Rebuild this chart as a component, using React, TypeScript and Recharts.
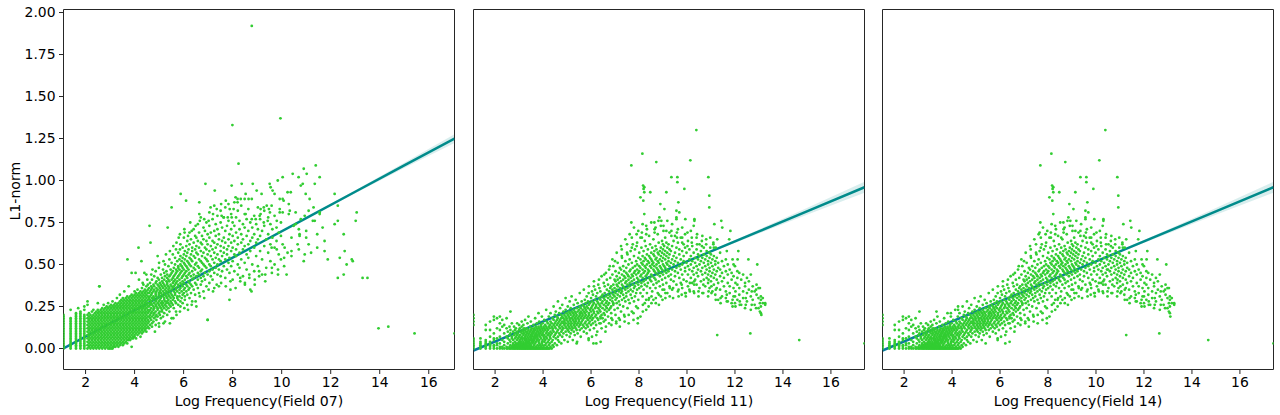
import React from "react";
import { ComposedChart, Scatter, Line, Area, XAxis, YAxis, ReferenceArea } from "recharts";

type Col = [number, number[]];

const xTicks = [2, 4, 6, 8, 10, 12, 14, 16];
const yTicks = [0, 0.25, 0.5, 0.75, 1, 1.25, 1.5, 1.75, 2];

// Each column: an x value and the y values (in hundredths) read at that x.
const field07Stripes: Col[] = [
  [1.1, [0,1,2,3,4,5,6,7,8,9,10,11,12,13,14,15,16,17,18,19,20]],
  [1.39, [0,1,2,3,4,5,6,7,8,9,10,11,12,13,14,15,16,17,18,23]],
  [1.61, [0,1,2,3,4,5,6,7,8,9,10,11,12,13,14,15,16,17,18,19,20,21]],
  [1.79, [0,1,2,3,4,5,6,7,8,9,10,11,12,13,14,15,16,17,18,19,20,21,22]],
  [1.95, [0,1,2,3,4,5,6,7,8,9,10,11,12,13,14,15,16,17,18,19,20,23,25]],
];
const field07Core: Col[] = [
  [2.08, [0,2,4,6,8,10,12,14,16,18,20]],[2.14, [1,3,5,7,9,11,13,15,17,19,21]],
  [2.2, [0,2,4,6,8,10,12,14,16,18,20]],[2.26, [1,3,5,7,9,11,13,15,17,19,22]],
  [2.32, [0,2,4,6,8,10,12,14,16,18,20,23]],[2.38, [1,3,5,7,9,11,13,15,17,19,21]],
  [2.44, [0,2,4,6,8,10,12,14,16,18,20,22]],[2.5, [1,3,5,7,9,11,13,15,17,19,21,23,27]],
  [2.56, [0,2,4,6,8,10,12,14,16,18,20,22,37]],[2.62, [1,3,5,7,9,11,13,15,17,19,21,23]],
  [2.68, [0,2,4,6,8,10,12,14,16,18,20,22,24]],[2.74, [1,3,5,7,9,11,13,15,17,19,21,23,26]],
  [2.8, [0,2,4,6,8,10,12,14,16,18,20,22,24]],[2.86, [1,3,5,7,9,11,13,15,17,19,21,23,25]],
  [2.92, [0,2,4,6,8,10,12,14,16,18,20,22,24,27]],[2.98, [0,1,3,5,7,9,11,13,15,17,19,21,23,25]],
  [3.04, [0,2,4,6,8,10,12,14,16,18,20,22,24,26]],[3.1, [0,1,3,5,7,9,11,13,15,17,19,21,23,25,28]],
  [3.16, [1,2,4,6,8,10,12,14,16,18,20,22,24,26]],[3.22, [1,3,5,7,9,11,13,15,17,19,21,23,25,27]],
  [3.28, [2,4,6,8,10,12,14,16,18,20,22,24,26,30]],[3.34, [1,3,5,7,9,11,13,15,17,19,21,23,25,27]],
  [3.4, [2,4,6,8,10,12,14,16,18,20,22,24,26,28,32]],[3.46, [3,5,7,9,11,13,15,17,19,21,23,25,27,29]],
  [3.52, [2,4,6,8,10,12,14,16,18,20,22,24,26,28,30]],[3.58, [3,5,7,9,11,13,15,17,19,21,23,25,27,29,34]],
  [3.64, [4,6,8,10,12,14,16,18,20,22,24,26,28,30]],[3.7, [3,5,7,9,11,13,15,17,19,21,23,25,27,29,31]],
  [3.76, [5,6,8,10,12,14,16,18,20,22,24,26,28,30,37]],[3.82, [5,7,9,11,13,15,17,19,21,23,25,27,29,31]],
  [3.88, [1,6,8,10,12,14,16,18,20,22,24,26,28,30,32]],[3.94, [6,7,9,11,13,15,17,19,21,23,25,27,29,31]],
  [4.0, [7,8,10,12,14,16,18,20,22,24,26,28,30,32,34]],[4.06, [6,9,11,13,15,17,19,21,23,25,27,29,31,33]],
  [4.12, [8,10,12,14,16,18,20,22,24,26,28,30,32,35]],[4.18, [9,11,13,15,17,19,21,23,25,27,29,31,33,41]],
  [4.24, [7,10,12,14,16,18,20,22,24,26,28,30,32,34]],[4.3, [9,11,13,15,17,19,21,23,25,27,29,31,33,36]],
  [4.36, [10,12,14,16,18,20,22,24,26,28,30,32,34,38]],[4.42, [11,13,15,17,19,21,23,25,27,29,31,33,35]],
  [4.48, [10,12,14,16,18,20,22,24,26,28,30,32,34,37,44]],[4.54, [13,15,17,19,21,23,25,27,29,31,33,35,38]],
];
const field07Mid: Col[] = [
  [4.59,[12,16,19,22,25,27,30,33,36]],[4.63,[14,18,20,23,26,29,31,34,39]],[4.68,[17,21,24,27,28,32,35,37,44]],
  [4.71,[13,15,19,22,26,30,33,36,41]],[4.77,[16,20,23,25,29,31,34,38]],[4.8,[18,21,24,27,30,35,37,43]],
  [4.86,[14,19,22,26,28,32,33,39,46]],[4.89,[17,20,25,29,31,34,36,40]],[4.94,[19,23,24,27,30,35,38,42]],
  [4.99,[15,21,26,28,32,33,37,41,48]],[5.03,[20,22,25,29,31,34,36,39]],[5.07,[18,24,27,30,33,35,38,44]],
  [5.12,[22,23,26,28,32,37,40,42]],[5.16,[19,25,27,31,34,36,39,47]],[5.21,[21,24,29,30,33,38,41,45]],
  [5.24,[16,26,28,32,35,37,43,50]],[5.3,[23,25,27,31,34,36,40,46]],[5.33,[20,28,30,33,38,39,42,44]],
  [5.38,[24,27,29,32,35,37,41,49]],[5.42,[22,26,31,34,36,40,43,53]],[5.47,[25,28,30,33,38,44,47]],
  [5.51,[18,27,32,35,37,41,45,51]],[5.56,[26,29,31,36,39,42,46,56]],[5.6,[24,30,34,37,40,43,48]],
  [5.65,[28,32,33,38,41,44,50,54]],[5.69,[22,27,35,36,39,45,47,59]],[5.74,[30,31,34,40,42,46,52]],
  [5.78,[26,29,37,38,43,48,49,57]],[5.83,[31,33,35,41,44,47,53]],[5.87,[25,28,36,39,45,50,55,62]],
  [5.92,[30,34,38,42,46,49,52]],[5.96,[27,32,37,40,43,48,54,60]],[6.01,[33,35,39,44,47,51,56,66]],
  [6.05,[29,31,36,41,45,50,53,58]],[6.11,[34,38,43,46,49,55,61]],[6.15,[26,32,37,42,48,52,57,64]],
  [6.2,[35,40,44,47,51,59]],[6.24,[30,36,39,45,50,54,62,69]],[6.3,[33,38,43,49,53,56,65]],
  [6.35,[28,37,41,46,52,58,60]],[6.41,[35,42,44,48,55,63,71]],[6.47,[32,39,47,50,54,59,67]],
  [6.52,[25,38,43,51,57,61,66]],[6.58,[36,41,45,49,56,64,74]],[6.63,[33,44,48,53,60,69]],
  [6.7,[38,42,46,52,58,63,78]],[6.75,[40,47,51,55,62,67]],[6.81,[34,43,50,57,65,72]],
  [6.87,[41,45,49,54,60,70]],[6.93,[37,48,53,59,64,75]],[6.98,[17,44,52,56,62,68]],
  [7.05,[39,46,50,58,66,73,81]],[7.11,[43,49,55,61,69]],[7.18,[41,47,53,59,64,77]],
  [7.25,[36,45,51,57,63,70,85]],[7.31,[48,54,60,67,74]],[7.38,[44,50,56,62,71,79]],
  [7.44,[37,47,53,65,68]],[7.51,[43,52,58,61,75,82]],[7.57,[46,55,64,72]],
  [7.64,[49,57,60,66,78]],[7.7,[42,53,63,70,84]],[7.77,[47,56,59,73]],
  [7.83,[51,61,65,76,86]],[7.87,[29,45,54,68]],[7.94,[49,58,63,71,80]],
  [8.0,[41,52,60,67,75]],[8.07,[46,56,64,73,87]],[8.14,[55,59,69,78]],
  [8.21,[44,50,62,66,82]],[8.28,[48,57,71,76]],[8.35,[53,63,68,85]],
  [8.42,[43,59,65,74]],[8.49,[51,61,72,80]],[8.57,[47,56,67,77]],
  [8.64,[54,62,70,83]],[8.72,[35,58,64,75]],[8.8,[50,66,72]],
  [8.88,[46,60,68,79]],[8.96,[55,63,74]],[9.03,[49,65,71,84]],
  [9.12,[58,67,77]],[9.2,[44,53,70]],[9.29,[61,73,82]],[9.37,[48,65]],[9.45,[57,68,78]],
  [9.54,[52,62,74]],[9.62,[66,71]],[9.71,[50,60,79]],[9.79,[64,72]],[9.88,[56,69]],[9.97,[53,67,75]],
];
const field07Sparse: Col[] = [
  [1.7,[24]],[2.08,[28,26]],[2.57,[37]],[3.71,[53]],[3.88,[45]],[4.04,[45]],[4.16,[60]],[4.28,[52]],[4.4,[45]],[4.61,[73]],
  [4.65,[63]],[4.94,[55]],[5.35,[72]],[5.51,[84]],[5.8,[66]],[5.88,[92]],[6.04,[69]],[6.1,[88]],[6.27,[75]],[6.64,[80,87]],
  [6.89,[98]],[6.98,[17]],[7.1,[84]],[7.27,[94]],[7.55,[79]],[7.63,[78]],[7.8,[78]],[7.88,[83]],[7.96,[97,78]],[8.04,[83]],
  [8.2,[89,87]],[8.24,[110]],[8.33,[89]],[8.37,[98]],[8.49,[89]],[8.53,[92,80]],[8.65,[89]],[8.77,[34]],[8.78,[89,77,192]],
  [8.82,[98]],[8.94,[77]],[8.98,[94]],[9.1,[79]],[9.14,[83,80]],[9.18,[92]],[9.27,[84,75]],[9.39,[85]],[9.43,[76]],
  [9.48,[83]],[9.51,[98]],[9.52,[81]],[9.55,[96]],[9.59,[85,60]],[9.63,[94]],[9.71,[92]],[9.8,[76,59]],[9.84,[100]],
  [9.92,[89,83,81]],[9.95,[137]],[7.99,[133]],[10.04,[102,89,81,62]],[10.08,[88]],[10.12,[60]],[10.2,[44]],[10.24,[93,57]],
  [10.29,[86,80]],[10.33,[82]],[10.37,[93]],[10.45,[104]],[10.49,[73]],[10.57,[81,74]],[10.65,[62]],[10.69,[102]],
  [10.73,[68,67]],[10.78,[97,77]],[10.86,[98]],[10.9,[107,52]],[10.94,[79,56]],[10.98,[92]],[11.02,[104]],[11.1,[82,62]],
  [11.14,[89]],[11.2,[57]],[11.27,[76]],[11.3,[84]],[11.35,[98,76]],[11.39,[109]],[11.55,[102,80,81]],[11.67,[72]],
  [11.88,[53]],[12.16,[92,74]],[12.29,[85,76,42]],[12.37,[54]],[12.53,[68,44]],[12.57,[58]],[12.65,[50]],[12.86,[53]],
  [12.9,[52]],[13.02,[76]],[13.06,[81]],[13.3,[42]],[13.5,[42]],[13.95,[12]],[14.35,[13]],[15.42,[9]],[17.05,[9]],
];
const field07Fringe: Col[] = [
  [4.33,[39]],[4.52,[41]],[4.73,[47]],[4.83,[10]],[5.0,[13,51]],[5.18,[52,15]],[5.28,[56]],[5.44,[15,58]],[5.58,[18,61]],[5.71,[20,63]],
  [5.85,[22,59,68]],[6.03,[24,71]],[6.18,[23,67]],[6.33,[26,70]],[6.49,[28,73]],[6.66,[31,76]],[6.84,[30,77]],[7.02,[35,76]],
  [7.2,[34,80]],[7.35,[38,83]],[7.53,[39,86]],[7.72,[37,88]],[7.91,[40,35]],[8.12,[36,90]],[8.31,[42,40]],[8.5,[39,38]],
  [8.68,[44,42]],[8.9,[41,38]],[9.08,[46,43]],[9.33,[40,44]],[9.6,[45,48]],[9.85,[47,44]],[10.1,[49,54]],[10.4,[55,58,66]],
  [10.7,[59,71]],[11.0,[66,70]],[11.45,[60,68]],[11.75,[58,64]],
];

const field11And14Cloud: Col[] = [
  [1.1, [0,1,2,3,4,5,6,14,16,18,20]],[1.39, [0,1,2,3,4,6]],[1.61, [0,1,2,3,4,5,11,14]],[1.79, [0,1,2,3,4,7,16,11]],
  [1.95, [0,1,2,5,6,9,17,19]],[2.08, [0,2,3,6,12,18]],[2.2, [0,1,3,7,11,15,19]],[2.3, [0,1,5,13,17]],
  [2.38, [0,2,4,9,14]],[2.48, [0,1,7,12,18]],[2.53, [0,3,6,10]],[2.6, [0,1,5,8,13]],
  [2.64, [0,2,4,9,11,22]],[2.7, [0,1,6,7,15]],[2.75, [0,3,5,2,10]],[2.79, [0,1,2,8,13]],
  [2.83, [0,1,4,6,9,11]],[2.87, [0,2,3,7,12]],[2.92, [0,1,5,8,10,15]],[2.95, [0,2,3,6,9]],
  [3.0, [0,1,4,7,11,14]],[3.03, [0,2,3,5,8,12]],[3.07, [0,1,2,4,6,10]],[3.11, [0,1,3,7,9,13,16]],
  [3.14, [0,2,5,6,11]],[3.18, [0,1,3,4,8,10,14]],[3.21, [0,1,2,6,9,12]],[3.25, [0,2,3,5,7,11,17]],
  [3.28, [0,1,4,6,8,10]],[3.32, [0,2,3,5,9,12]],[3.35, [0,1,4,7,10,15]],[3.39, [0,1,3,6,8,11,19]],
  [3.42, [0,2,4,5,9]],[3.46, [0,1,3,7,10,13]],[3.49, [0,2,5,6,8,11,16]],[3.53, [0,1,4,7,9,12]],
  [3.56, [0,3,5,8,10]],[3.6, [0,1,4,6,9,11,14]],[3.63, [0,2,5,7,10,12]],[3.67, [0,3,6,8,11,18]],
  [3.7, [0,1,4,7,9,13]],[3.74, [0,5,8,10,12,15]],[3.77, [0,2,6,7,11]],[3.81, [0,1,4,9,10,13,21]],
  [3.84, [0,3,5,8,12,16]],[3.88, [0,2,7,9,11]],[3.91, [0,1,6,10,13,14]],[3.95, [0,3,4,8,12,19]],
  [3.98, [0,2,5,9,11,15]],[4.02, [0,1,7,10,13]],[4.05, [0,4,6,8,12,17]],[4.09, [0,2,5,11,14]],
  [4.13, [0,3,7,9,13,23]],[4.16, [0,1,6,10,12,16]],[4.2, [0,4,8,11,15]],[4.24, [0,2,5,9,13,19]],
  [4.28, [0,3,7,12,14]],[4.31, [1,6,8,10,16,21]],[4.36, [0,4,9,13,15]],[4.4, [2,5,11,12,18]],
  [4.44, [1,7,10,14,17,25]],[4.49, [3,8,13,15,20]],[4.53, [6,9,12,16,22]],[4.58, [2,10,14,17,19]],
  [4.62, [5,7,11,15,18,28]],[4.67, [4,9,13,16,21]],[4.71, [8,12,14,17,24]],[4.76, [3,10,15,18,20]],
  [4.8, [7,11,13,16,19,26]],[4.85, [9,12,15,18,22]],[4.89, [5,14,16,17,20]],[4.94, [10,13,15,19,23,30]],
  [4.98, [8,12,17,18,21]],[5.03, [4,11,14,16,20,25]],[5.07, [10,13,15,19,22]],[5.11, [7,12,17,18,21,28]],
  [5.15, [9,14,16,20,24]],[5.19, [11,13,15,18,22,31]],[5.24, [5,12,17,19,21]],[5.28, [10,14,16,20,23,26]],
  [5.32, [8,13,15,18,22]],[5.36, [12,16,17,19,21,29]],[5.4, [3,11,14,20,24]],[5.44, [9,15,18,22,27]],
  [5.49, [13,16,17,19,23]],[5.53, [11,14,20,21,25,33]],[5.57, [7,15,18,22,24]],[5.61, [12,16,19,21,28]],
  [5.65, [14,17,20,23,26]],[5.7, [10,13,18,22,25,35]],[5.74, [15,19,21,24,29]],[5.78, [12,16,20,23,27]],
  [5.82, [9,14,18,22,25,31]],[5.87, [13,17,19,24,28]],[5.91, [15,20,21,26,37]],[5.95, [11,16,18,23,27]],
  [6.0, [14,19,22,24,30]],[6.04, [7,17,20,25,28,34]],[6.08, [15,18,23,26,32]],[6.12, [12,21,22,27,40]],
  [6.17, [16,19,24,29,35]],[6.21, [14,20,25,26,31]],[6.26, [10,18,22,28,33]],[6.3, [17,21,24,27,38]],
  [6.35, [15,23,26,30,36]],[6.39, [19,22,25,29,34]],[6.44, [12,20,27,31,43]],[6.48, [18,24,28,32]],
  [6.53, [16,21,26,30,39]],[6.57, [20,23,29,33,37]],[6.62, [13,25,27,31,45]],[6.66, [22,24,28,35,41]],
  [6.71, [19,26,30,32,38]],[6.75, [15,23,27,34,47]],[6.8, [24,29,31,36,42]],[6.84, [21,25,33,37]],
  [6.89, [17,28,30,35,44,53]],[6.93, [26,27,32,38,49]],[6.98, [23,31,34,36,41]],[7.02, [20,29,33,40,46]],
  [7.07, [27,30,35,38,43,57]],[7.11, [24,32,37,41,51]],[7.16, [18,28,34,39,45]],[7.2, [26,31,36,42,48]],
  [7.25, [22,33,35,40,47,61]],[7.29, [29,34,38,44,54]],[7.34, [25,32,37,41,49]],[7.38, [20,30,36,43,46]],
  [7.43, [28,35,39,42,52,65]],[7.47, [31,33,40,45,48]],[7.52, [24,36,38,44,56]],[7.56, [29,34,41,43,50]],
  [7.61, [27,37,39,46,53,68]],[7.65, [32,35,42,47,58]],[7.7, [22,30,40,44,51]],[7.74, [34,38,43,48,62]],
  [7.79, [28,36,41,45,55,72]],[7.83, [31,37,46,49,59]],[7.88, [25,33,39,44,52]],[7.92, [35,42,47,50,63]],
  [7.97, [29,38,41,45,54,70]],[8.01, [36,40,46,49,57]],[8.06, [19,33,43,48,53,66]],[8.1, [37,39,44,51,60]],
  [8.15, [31,42,47,50,55,74]],[8.19, [35,40,45,52,58]],[8.24, [27,38,46,49,54,64]],[8.28, [41,43,48,53,61]],
  [8.33, [33,37,44,50,56,71]],[8.37, [39,45,47,52,59]],[8.42, [30,42,46,51,55,67]],[8.46, [36,41,49,54,62]],
  [8.51, [40,44,48,53,57,75]],[8.55, [34,43,50,52,60]],[8.6, [29,38,47,51,56,65]],[8.64, [42,46,49,55,58]],
  [8.69, [36,41,45,53,61,72]],[8.73, [39,48,50,54,59]],[8.78, [33,44,47,52,57,68]],[8.82, [40,46,51,56,63]],
  [8.87, [37,43,49,53,58]],[8.91, [31,45,48,55,60,73]],[8.96, [41,47,52,57,64]],[9.0, [38,44,50,54,59,62]],
  [9.05, [35,46,49,56,61]],[9.09, [42,48,53,58,66]],[9.14, [39,45,51,55,63,70]],[9.18, [33,47,50,57,60]],
  [9.23, [43,46,52,54,62]],[9.27, [37,49,56,59,69]],[9.33, [41,44,51,58]],[9.38, [35,47,53,61,74]],
  [9.44, [40,50,55,64]],[9.5, [43,46,52,57,67]],[9.56, [38,48,54,60]],[9.62, [34,45,51,63,71]],
  [9.68, [42,49,56,59]],[9.74, [39,47,53,66]],[9.8, [36,44,50,58,72]],[9.86, [41,52,55,62]],
  [9.92, [33,46,48,60,68]],[9.98, [40,51,57]],[10.04, [37,44,49,64]],[10.1, [35,47,53,59]],
  [10.16, [42,50,55,70]],[10.22, [39,46,52,61]],[10.28, [34,44,48,57,73]],[10.34, [41,51,54]],
  [10.4, [38,45,49,59,66]],[10.46, [43,47,53,56]],[10.52, [36,50,55,62]],[10.58, [40,46,52,58]],
  [10.64, [33,44,48,54,67]],[10.7, [41,51,56,60]],[10.76, [37,45,49,53]],[10.82, [42,47,55,58]],
  [10.88, [31,39,44,50,52]],[10.94, [36,46,48,54,57]],[11.0, [40,43,51,56]],[11.06, [34,45,49,53]],
  [11.12, [38,42,47,55,60]],[11.18, [32,44,50,52]],[11.24, [36,41,46,54]],[11.3, [29,39,48,51]],
  [11.38, [35,43,47,57]],[11.46, [31,40,45,52]],[11.54, [37,42,49]],[11.62, [30,34,46,53]],
  [11.7, [28,39,44,50]],[11.78, [33,37,47]],[11.86, [27,41,45]],[11.94, [31,36,43,50]],
  [12.02, [25,34,39]],[12.1, [29,38,42,46]],[12.18, [32,36,45]],[12.26, [26,41]],
  [12.34, [30,34,44]],[12.42, [24,37,39]],[12.5, [28,33,42]],[12.58, [35,40]],
  [12.66, [23,31,44]],[12.74, [29,37]],[12.82, [26,34]],[12.9, [32,38]],
  [12.98, [24,30,36]],[13.04, [22,27,36]],[13.08, [21,25,29,31]],[13.16, [27,30]],[13.26, [27,26]],
];
const field11And14Fringe: Col[] = [
  [5.9,[6,5]],[6.22,[8,3]],[6.4,[15,18,4]],[6.6,[10,17]],[6.85,[14,18]],[7.05,[16,15]],[7.2,[17,13]],[7.4,[19,16]],[7.57,[15,20]],
  [7.77,[17,21]],[7.95,[18,15,24]],[8.16,[22,26]],[8.3,[23,29]],[8.4,[25,29]],[8.52,[27,31]],[8.7,[30,27]],[8.83,[26,32]],
  [8.98,[29,35]],[9.1,[33,30]],[9.28,[31,36]],[9.42,[36,30]],[9.65,[31,35]],[9.78,[32,38]],[9.95,[33,31]],[10.12,[34,39]],
  [10.3,[33,38,40]],[10.48,[34,31]],[10.68,[33,38]],[10.9,[34,41]],[11.02,[33,37]],[11.2,[29,35,60]],[11.4,[30,27]],
  [11.66,[28,32,58]],[11.9,[25,29,53]],[12.0,[31,27,49]],[12.2,[26,28]],[12.45,[26,30]],[12.7,[26,34]],[12.88,[24,35]],
  [7.28,[59,55]],[7.5,[62,57]],[7.7,[66,60]],[7.9,[68,61]],[8.12,[66,69]],[8.3,[68,73]],[8.65,[69,71]],[9.02,[70,73]],
  [9.35,[67,70]],[9.58,[69,66]],[9.8,[66,63]],[10.02,[61,69]],[10.2,[66,63]],[10.42,[62,68]],[10.62,[61,64]],[10.8,[62,65]],
  [10.97,[60,66]],[11.1,[62,63]],[5.9,[33]],[6.12,[37]],[6.33,[41]],[6.55,[44]],[6.78,[49]],[7.0,[52]],
];
const field11And14Outliers: Col[] = [
  [10.39,[130]],[8.14,[116]],[7.68,[109,75]],[8.72,[111]],[10.14,[112]],[9.35,[102]],[9.6,[102,99]],[10.89,[102]],[9.89,[95]],
  [8.17,[97]],[8.22,[96,93,80]],[8.19,[95]],[8.47,[93]],[9.14,[93]],[8.06,[90]],[8.18,[88]],[10.93,[91,84]],[9.64,[87]],
  [8.89,[86]],[9.06,[83]],[9.56,[82,78,77]],[9.68,[81]],[8.85,[78]],[8.81,[76]],[8.64,[75]],[8.93,[76]],[9.93,[77]],
  [10.31,[77,76]],[9.18,[76]],[11.43,[76]],[11.14,[74]],[11.47,[72]],[11.81,[70]],[11.26,[65,8]],[11.76,[65]],[12.14,[58]],
  [12.56,[53]],[12.93,[50]],[12.11,[53]],[12.64,[9]],[14.68,[5]],[17.4,[3]],
];
const field11Extra: Col[] = [
  [6.1,[3]],[5.42,[4]],[13.1,[20]],
];
const field14Extra: Col[] = [
  [3.35,[22]],[3.95,[21]],[4.25,[25,23]],[7.65,[69]],[8.55,[66]],[10.5,[47]],[13.1,[19]],
];

const field07FitX = [1.1, 7, 9, 11, 13, 15, 17.05];
const field07FitY = [0, 0.4626, 0.619, 0.776, 0.933, 1.09, 1.25];
const field07FitCi = [0.005, 0.002, 0.002, 0.004, 0.009, 0.016, 0.026];
const field11FitX = [1.1, 9, 11, 13, 15, 17.4];
const field11FitY = [-0.012, 0.459, 0.578, 0.697, 0.816, 0.96];
const field11FitCi = [0.005, 0.003, 0.005, 0.012, 0.02, 0.033];

const toPoints = (cols: Col[]) => cols.flatMap(([x, ys]) => ys.map((y) => ({ x, y: y / 100 })));
const toFit = (xs: number[], ys: number[], ci: number[], joinX: number) =>
  xs.map((x, i) => ({
    x,
    band: [ys[i] - ci[i], ys[i] + ci[i]],
    dense: x <= joinX ? ys[i] : null,
    open: x >= joinX ? ys[i] : null,
  }));

const INK = "#262626";
const FONT = "'DejaVu Sans', sans-serif";
const dot = (p: any) => <circle cx={p.cx} cy={p.cy} r={1.4} fill="#32cd32" />;

function Panel({ left, width, axisW, marginL, xMax, label, points, fit, showY }: any) {
  return (
    <div style={{ position: "absolute", left, top: 0 }}>
      <ComposedChart
        width={width}
        height={415}
        data={fit}
        margin={{ top: 9.5, right: 0, bottom: 0, left: marginL }}
      >
        <XAxis
          type="number"
          dataKey="x"
          domain={[1.1, xMax]}
          ticks={xTicks}
          interval={0}
          allowDataOverflow
          height={45.5}
          tickSize={4.5}
          tickMargin={3}
          axisLine={false}
          tick={{ fill: "#000", fontSize: 13.9, fontFamily: FONT }}
          tickLine={{ stroke: INK }}
          label={{ value: label, position: "insideBottom", offset: 9, fill: "#000", fontSize: 14.1, fontFamily: FONT }}
        />
        <YAxis
          type="number"
          dataKey="y"
          domain={[-0.125, 2.018]}
          ticks={yTicks}
          interval={0}
          allowDataOverflow
          hide={!showY}
          width={axisW}
          tickSize={4.5}
          tickMargin={3.5}
          axisLine={false}
          tickLine={{ stroke: INK }}
          tickFormatter={(v: number) => v.toFixed(2)}
          tick={{ fill: "#000", fontSize: 13.9, fontFamily: FONT }}
          label={
            showY
              ? { value: "L1-norm", angle: -90, position: "insideLeft", offset: 15, dy: 31, fill: "#000", fontSize: 14.1, fontFamily: FONT }
              : undefined
          }
        />
        <Scatter data={points} shape={dot} isAnimationActive={false} />
        <Area dataKey="band" stroke="none" fill="#008b8b" fillOpacity={0.15} dot={false} activeDot={false} isAnimationActive={false} />
        <Line dataKey="dense" stroke="#0b7d9b" strokeWidth={2.5} dot={false} activeDot={false} isAnimationActive={false} />
        <Line dataKey="open" stroke="#008b8b" strokeWidth={2.5} dot={false} activeDot={false} isAnimationActive={false} />
        <ReferenceArea x1={1.1} x2={xMax} y1={-0.125} y2={2.018} fill="none" stroke={INK} strokeWidth={1} ifOverflow="visible" />
      </ComposedChart>
    </div>
  );
}

const field07Points = toPoints([...field07Stripes, ...field07Core, ...field07Mid, ...field07Sparse, ...field07Fringe]);
const field11Points = toPoints([...field11And14Cloud, ...field11And14Fringe, ...field11And14Outliers, ...field11Extra]);
const field14Points = toPoints([...field11And14Cloud, ...field11And14Fringe, ...field11And14Outliers, ...field14Extra]);
const field07Fit = toFit(field07FitX, field07FitY, field07FitCi, 7);
const field11Fit = toFit(field11FitX, field11FitY, field11FitCi, 9);

export default function App() {
  return (
    <div style={{ position: "absolute", left: 0, top: 0, width: 1280, height: 415, background: "#fff", overflow: "hidden" }}>
      <Panel left={0} width={454.5} axisW={63.5} marginL={0} xMax={17.05} label="Log Frequency(Field 07)" points={field07Points} fit={field07Fit} showY />
      <Panel left={463} width={401.5} axisW={0} marginL={10.5} xMax={17.4} label="Log Frequency(Field 11)" points={field11Points} fit={field11Fit} showY={false} />
      <Panel left={872} width={401.5} axisW={0} marginL={10.5} xMax={17.4} label="Log Frequency(Field 14)" points={field14Points} fit={field11Fit} showY={false} />
    </div>
  );
}
